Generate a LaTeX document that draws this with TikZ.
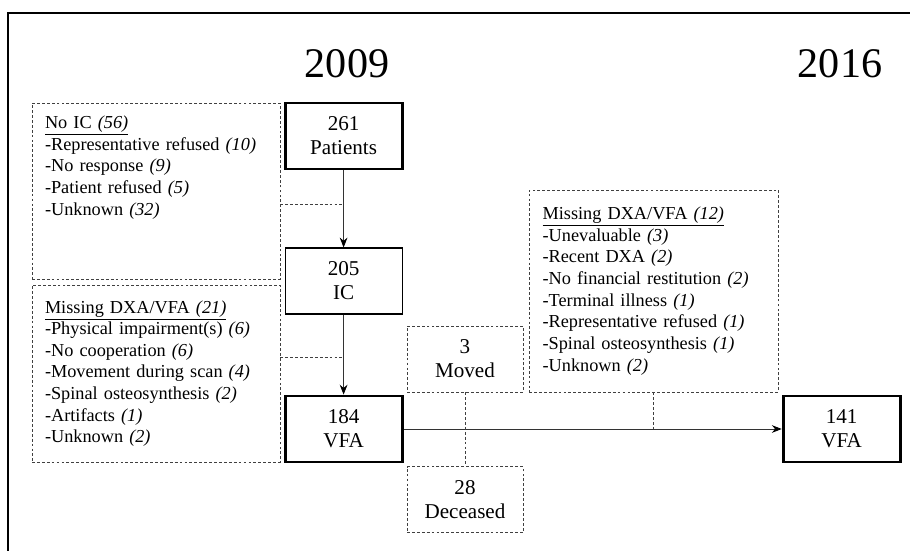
\documentclass[tikz,border=0pt]{standalone}
\usepackage{fontspec}
\setmainfont{Liberation Serif}
\usetikzlibrary{positioning,arrows.meta}

\begin{document}
\begin{tikzpicture}[
        font=\fontsize{15}{17}\selectfont,
        box/.style={
            rectangle, draw=black, line width=2pt,
            minimum height=1.65cm, minimum width=2.925cm,
            text centered, align=center
        },
        thinbox/.style={box, line width=0.8pt},
        reason/.style={
            rectangle, draw=black!75, dash pattern=on 2pt off 1.5pt, line width=0.6pt,
            text width=5.55cm, inner xsep=0.325cm, inner ysep=0.3cm,
            align=left, font=\fontsize{13}{15.4}\selectfont
        },
        lossbox/.style={
            rectangle, draw=black!75, dash pattern=on 2pt off 1.5pt, line width=0.6pt,
            minimum height=1.65cm, minimum width=2.9cm, align=center
        },
        arrow/.style={-{Stealth[length=7pt,width=5.5pt,black]}, line width=0.6pt, black!80},
        link/.style={dash pattern=on 2pt off 1.5pt, line width=0.6pt, black!75},
        year/.style={font=\fontsize{30}{30}\selectfont}
    ]
        \useasboundingbox (0,0) rectangle (22.75,-13.775);

        % Rahmen
        \draw[line width=1pt] (0.2,-13.775) -- (0.2,-0.325) -- (22.75,-0.325);

        % Jahre
        \node[year] (y2009) at (8.675,-1.6) {2009};
        \node[year] (y2016) at (21.0,-1.6) {2016};

        % Hauptpfad
        \node[box] (patients) at (8.59,-3.4) {261\\Patients};
        \node[thinbox] (ic) at (8.59,-7.025) {205\\IC};
        \node[box] (vfa) at (8.59,-10.725) {184\\VFA};
        \node[box] (vfa2) at (21.04,-10.725) {141\\VFA};

        % Ausfaelle 2009
        \node[reason, minimum width=6.2cm, minimum height=4.4cm] (noic) at (3.9,-4.775) {%
            \parbox[c][3.75cm][t]{5.55cm}{%
            \underline{No IC \textit{(56)}}\\
            -Representative refused \textit{(10)}\\
            -No response \textit{(9)}\\
            -Patient refused \textit{(5)}\\
            -Unknown \textit{(32)}}
        };

        \node[reason, minimum width=6.2cm, minimum height=4.425cm] (miss21) at (3.9,-9.34) {
            \underline{Missing DXA/VFA \textit{(21)}}\\
            -Physical impairment(s) \textit{(6)}\\
            -No cooperation \textit{(6)}\\
            -Movement during scan \textit{(4)}\\
            -Spinal osteosynthesis \textit{(2)}\\
            -Artifacts \textit{(1)}\\
            -Unknown \textit{(2)}
        };

        % Ausfaelle bis 2016
        \node[lossbox] (moved) at (11.625,-8.975) {3\\Moved};
        \node[lossbox] (deceased) at (11.625,-12.49) {28\\Deceased};

        \node[reason, minimum width=6.225cm, minimum height=5.05cm] (miss12) at (16.34,-7.275) {
            \underline{Missing DXA/VFA \textit{(12)}}\\
            -Unevaluable \textit{(3)}\\
            -Recent DXA \textit{(2)}\\
            -No financial restitution \textit{(2)}\\
            -Terminal illness \textit{(1)}\\
            -Representative refused \textit{(1)}\\
            -Spinal osteosynthesis \textit{(1)}\\
            -Unknown \textit{(2)}
        };

        % Pfeile
        \draw[arrow] (patients) -- (ic);
        \draw[arrow] (ic) -- (vfa);
        \draw[arrow] (vfa.east) -- (vfa2.west);

        % Abzweigungen
        \coordinate (cut1) at (8.59,-5.1);
        \coordinate (cut2) at (8.59,-8.925);
        \draw[link] (cut1 -| noic.east) -- (cut1);
        \draw[link] (cut2 -| miss21.east) -- (cut2);
        \draw[link] (moved) -- (deceased);
        \draw[link] (miss12.south) -- (miss12.south |- vfa.east);

    \end{tikzpicture}
\end{document}
